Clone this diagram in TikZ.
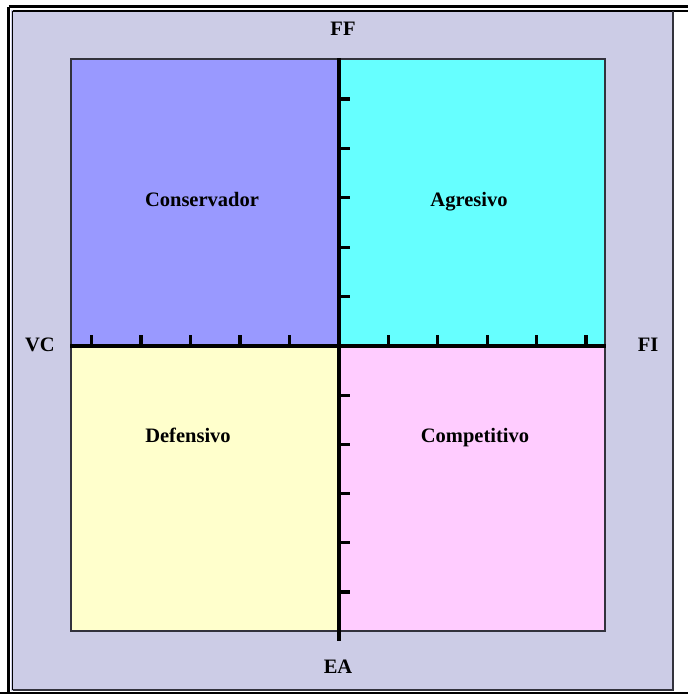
\documentclass[tikz,border=0pt]{standalone}
\usepackage{fontspec}
\setmainfont{Liberation Serif}
\usetikzlibrary{calc,positioning}
\definecolor{cBack}{RGB}{204,204,230}
\definecolor{cCons}{RGB}{153,153,255}
\definecolor{cAgr}{RGB}{102,255,255}
\definecolor{cDef}{RGB}{255,255,204}
\definecolor{cComp}{RGB}{255,204,255}
\definecolor{cEdge}{RGB}{50,50,60}

\begin{document}
\begin{tikzpicture}[x=1pt,y=-1pt,
    quad/.style={draw=cEdge,line width=1.6pt,inner sep=0pt},
    lbl/.style={font=\fontsize{20.5}{24}\selectfont\bfseries,inner sep=0pt,
                text height=13pt,text depth=4pt},
    axis/.style={line width=3.8pt},
    tick/.style={line width=3.2pt}]
  \useasboundingbox (0,0) rectangle (688,694);
  % frame
  \fill[cBack] (11,10) rectangle (673,691);
  \draw[line width=3pt] (8.5,6.5) -- (688,6.5);
  \draw[line width=3pt] (8.5,6.5) -- (8.5,694);
  \draw[line width=1.8pt] (12.5,11) -- (688,11);
  \draw[line width=1.8pt] (12.5,11) -- (12.5,690);
  \draw[cEdge,line width=1.6pt] (673,11) -- (673,690) -- (12.5,690);
  \draw[line width=2pt] (0,693) -- (688,693);

  % quadrants
  \coordinate (o) at (339,346);
  \node[quad,fill=cCons,anchor=south east,minimum width=267,minimum height=286] (cons) at (o) {};
  \node[quad,fill=cAgr,anchor=south west,minimum width=265,minimum height=286] (agr) at (o) {};
  \node[quad,fill=cDef,anchor=north east,minimum width=267,minimum height=284] (def) at (o) {};
  \node[quad,fill=cComp,anchor=north west,minimum width=265,minimum height=284] (comp) at (o) {};

  % axes
  \coordinate (ejeS) at (339,641);
  \draw[axis] (cons.north east) -- (ejeS);
  \draw[axis] (cons.south west) -- (agr.south east);
  \foreach \i in {1,...,5} {
    \draw[tick] ($(o)+(-\i*49.5,0)$) -- ++(0,-11);
    \draw[tick] ($(o)+(\i*49.4,0)$) -- ++(0,-11);
    \draw[tick] ($(o)+(0,-\i*49.4)$) -- ++(11,0);
    \draw[tick] ($(o)+(0,\i*49.2)$) -- ++(11,0);
  }

  % labels
  \node[lbl] (ff) at (343,31) {FF};
  \node[lbl] (ea) at (338,669) {EA};
  \node[lbl] (vc) at (40,347) {VC};
  \node[lbl] (fi) at (648,347) {FI};
  \node[lbl] (lcons) at (202,202) {Conservador};
  \node[lbl] (lagr) at (469,202) {Agresivo};
  \node[lbl] (ldef) at (188,438) {Defensivo};
  \node[lbl] (lcomp) at (475,438) {Competitivo};
\end{tikzpicture}
\end{document}
